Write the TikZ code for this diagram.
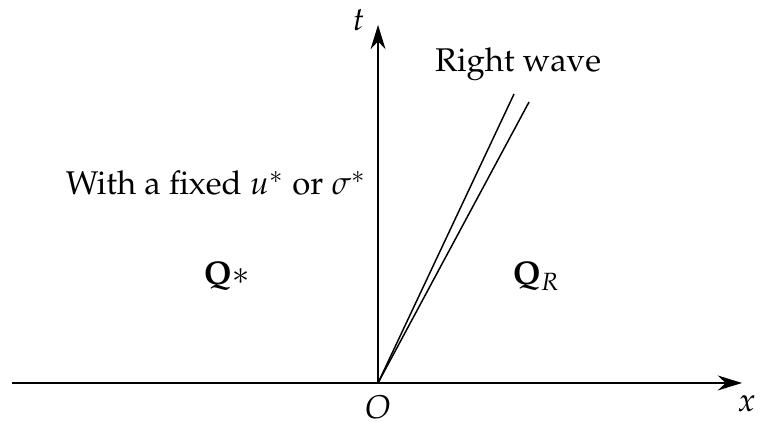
\documentclass[tikz,border=0pt]{standalone}
\usepackage[T1]{fontenc}
\usepackage{mathpazo}
\usepackage{amsmath}
\usetikzlibrary{positioning, arrows.meta}

\begin{document}
\begin{tikzpicture}[>={Stealth[length=2.6mm,width=1.6mm]},
    axis/.style={->,line width=0.5pt},
    wave/.style={line width=0.45pt}]
    \useasboundingbox (-4.045,-0.417) rectangle (4.151,4.098);
    \coordinate (O) at (0,0);
    \coordinate (xl) at (-3.916,0);
    \coordinate (xr) at (3.895,0);
    \coordinate (tt) at (0,3.831);
    \coordinate (w1) at (1.455,3.092);
    \coordinate (w2) at (1.616,3.007);
    \draw[axis] (xl) -- (xr);
    \draw[axis] (O) -- (tt);
    \draw[wave] (O) -- (w1);
    \draw[wave] (O) -- (w2);
    \node[anchor=north,inner sep=0pt] (olab) at (0,-0.125) {$O$};
    \node[anchor=west,inner sep=0pt] (xlab) at (3.84,-0.225) {$x$};
    \node[anchor=east,inner sep=0pt] (tlab) at (-0.139,3.884) {$t$};
    \node[anchor=base,inner sep=0pt] (rw) at (1.498,3.328) {Right wave};
    \node[anchor=base east,inner sep=0pt] (fix) at (-0.118,2.012) {With a fixed $u^{*}$ or $\sigma^{*}$};
    \node[anchor=base west,inner sep=0pt] (qs) at (-1.873,1.049) {$\mathbf{Q}{*}$};
    \node[anchor=base west,inner sep=0pt] (qr) at (1.434,1.049) {$\mathbf{Q}_{R}$};
\end{tikzpicture}
\end{document}
